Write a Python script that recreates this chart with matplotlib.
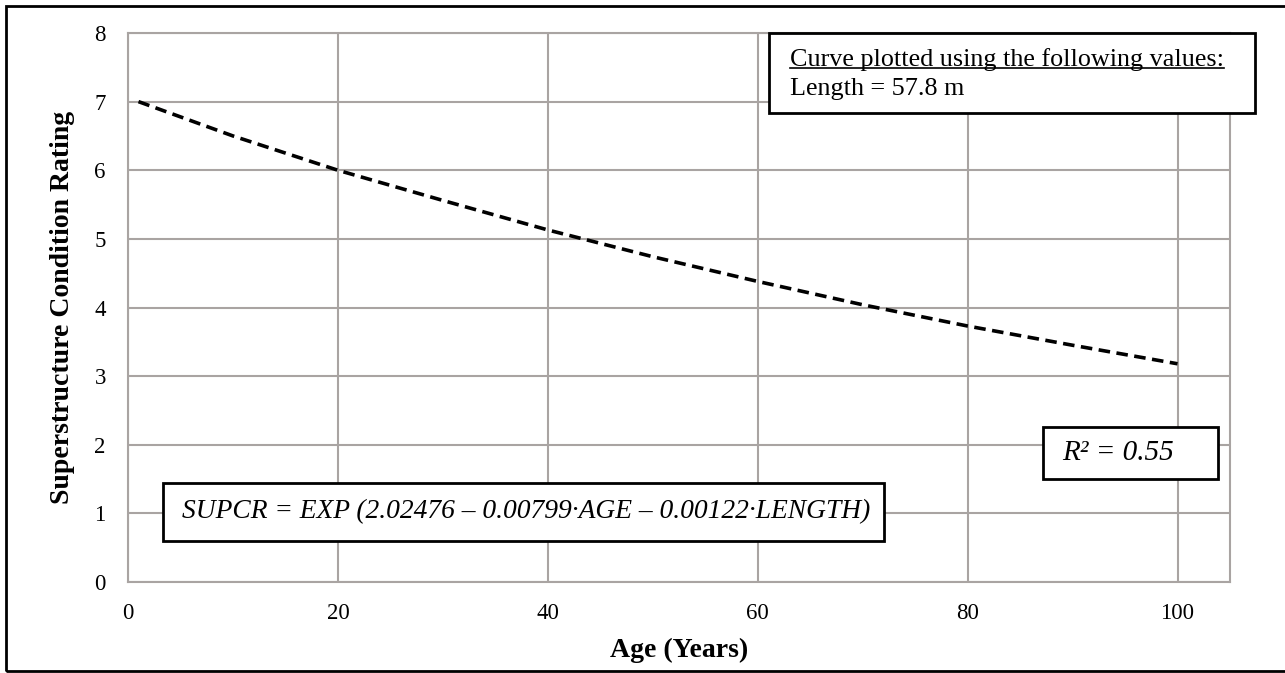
import matplotlib
matplotlib.use("Agg")
import matplotlib.pyplot as plt
from matplotlib.patches import Rectangle
from matplotlib.lines import Line2D

plt.rcParams.update({
    "font.family": ["Liberation Serif", "DejaVu Serif"],
    "font.size": 16,
})

# values (length = 57.8 m)
age = [1, 10, 20, 30, 40, 50, 60, 70, 80, 90, 100]
rating = [7.00, 6.50, 6.00, 5.56, 5.13, 4.74, 4.38, 4.04, 3.73, 3.45, 3.18]

x_ticks = [0, 20, 40, 60, 80, 100]
y_ticks = [0, 1, 2, 3, 4, 5, 6, 7, 8]

equation = "SUPCR = EXP (2.02476 \u2013 0.00799\u00b7AGE \u2013 0.00122\u00b7LENGTH)"
r2_text = "R\u00b2 = 0.55"
note_title = "Curve plotted using the following values:"
note_line = "Length = 57.8 m"

W, H = 1285, 673
GRID = "#a9a4a2"

fig = plt.figure(figsize=(W / 100, H / 100), dpi=100)
ax = fig.add_axes([128 / W, 1 - 582 / H, (1230 - 128) / W, (582 - 33) / H])

ax.plot(age, rating, color="black", lw=2.6, dashes=(3.2, 1.8), zorder=3)

ax.set_xlim(0, 105)
ax.set_ylim(0, 8)
ax.set_xticks(x_ticks)
ax.set_yticks(y_ticks)
ax.tick_params(length=0, labelsize=16.5, pad=16)
ax.tick_params(axis="x", pad=15)
ax.grid(True, color=GRID, lw=1.5)
ax.set_axisbelow(True)
for s in ax.spines.values():
    s.set_color(GRID)
    s.set_linewidth(1.5)

ax.set_xlabel("Age (Years)", fontsize=20, fontweight="bold", labelpad=10)
ax.set_ylabel("Superstructure Condition Rating", fontsize=20, fontweight="bold", labelpad=14)


def px_box(x0, y0, x1, y1):
    # rectangle given in pixel coords (top-left origin)
    r = Rectangle((x0 / W, 1 - y1 / H), (x1 - x0) / W, (y1 - y0) / H,
                  transform=fig.transFigure, facecolor="white",
                  edgecolor="black", lw=2, zorder=5)
    fig.patches.append(r)


px_box(769, 33, 1255, 113)
t1 = fig.text(790 / W, 1 - 60 / H, note_title, fontsize=18.8, va="center", ha="left", zorder=6)
fig.text(790 / W, 1 - 89 / H, note_line, fontsize=18.8, va="center", ha="left", zorder=6)

px_box(163, 483, 884, 541)
fig.text(182 / W, 1 - 512 / H, equation, fontsize=19.8, style="italic",
         va="center", ha="left", zorder=6)

px_box(1043, 427, 1218, 479)
fig.text(1062 / W, 1 - 453 / H, r2_text, fontsize=21, style="italic",
         va="center", ha="left", zorder=6)

# outer frame
fig.patches.append(Rectangle((6 / W, 1 - 671 / H), 1.0, (671 - 6) / H,
                             transform=fig.transFigure, fill=False,
                             edgecolor="black", lw=2, zorder=1))

# underline the note title
fig.canvas.draw()
bb = t1.get_window_extent().transformed(fig.transFigure.inverted())
fig.lines.append(Line2D([bb.x0, bb.x1], [bb.y0 + 0.005, bb.y0 + 0.005],
                        transform=fig.transFigure, color="black", lw=1.2, zorder=7))

fig.savefig("out.png", dpi=100)
